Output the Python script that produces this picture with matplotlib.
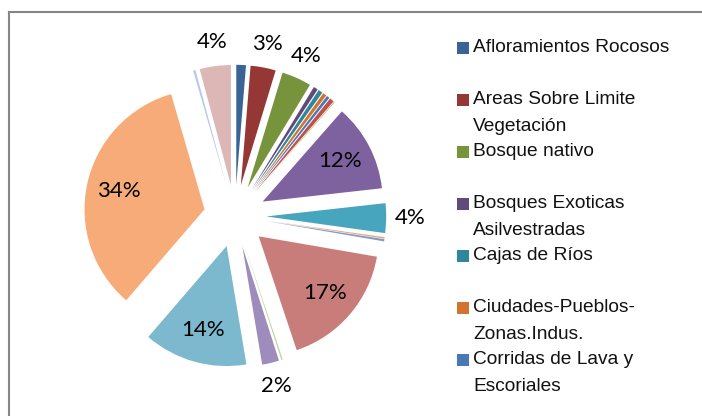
import matplotlib
matplotlib.use("Agg")
import matplotlib.pyplot as plt
import numpy as np
from matplotlib.patches import Rectangle
from matplotlib.lines import Line2D

categories = [
    "Afloramientos Rocosos", "Areas Sobre Limite\nVegetación", "Bosque nativo",
    "Bosques Exoticas\nAsilvestradas", "Cajas de Ríos", "Ciudades-Pueblos-\nZonas.Indus.",
    "Corridas de Lava y\nEscoriales", "Derrumbes", "Estepa", "Matorral",
    "Nieves y Glaciares", "Otros Sin Vegetación", "Playas y Dunas", "Praderas",
    "Plantación", "Renoval Abierto", "Renoval Denso", "Bosque Adulto",
    "Terrenos Agrícolas", "Lagos y Lagunas",
]
values = [1.3, 3.4, 4.0, 0.6, 0.6, 0.5, 0.4, 0.6, 0.1, 11.8,
          4.0, 0.2, 0.3, 17.2, 0.2, 2.3, 14.0, 34.3, 0.3, 4.2]
colors = ["#3B6496", "#953735", "#77933C", "#604A7B", "#31859C", "#D2742F",
          "#4A78B5", "#C0504D", "#9BBB59", "#7E619F", "#47A5BD", "#F2A47A",
          "#7D9BCF", "#C97D7B", "#C3D69B", "#9D8CBC", "#7CB9CF", "#F7AB78",
          "#B3C7E7", "#DDB6B6"]
legend_shown = 7

W, H = 702, 416
fig = plt.figure(figsize=(W / 100, H / 100), dpi=100)

# pie axes: center (235, 216 from top), radius 120 px
cx, cy, R = 235, H - 216, 120
lim = 1.6
ax = fig.add_axes([(cx - lim * R) / W, (cy - lim * R) / H, 2 * lim * R / W, 2 * lim * R / H])

total = sum(values)
explode = [0.26] * len(values)
wedges, texts, autotexts = ax.pie(
    values, colors=colors, explode=explode, startangle=90, counterclock=False,
    autopct=lambda p: f"{p:.0f}%" if p >= 2 else "", pctdistance=0.73,
    textprops=dict(fontsize=16, family="Lato", color="black"),
    wedgeprops=dict(linewidth=0), radius=1.0,
)
ax.set_xlim(-lim, lim)
ax.set_ylim(-lim, lim)
ax.set_aspect("equal")
ax.axis("off")
for w, t, v in zip(wedges, autotexts, values):
    pct = 100 * v / total
    if 2 <= pct < 10:
        ang = np.deg2rad((w.theta1 + w.theta2) / 2)
        c = w.center
        t.set_position((c[0] + 1.2 * np.cos(ang), c[1] + 1.2 * np.sin(ang)))
    t.set_ha("center")
    t.set_va("center")

# border
lc = "#868686"
fig.add_artist(Line2D([9 / W, 1.0], [1 - 12 / H, 1 - 12 / H], color=lc, lw=1.5,
                      transform=fig.transFigure))
fig.add_artist(Line2D([9 / W, 9 / W], [1 - 12 / H, 0.0], color=lc, lw=1.5,
                      transform=fig.transFigure))

# legend (first entries only, as in the reference)
y0 = 48
step = 52
for i in range(legend_shown):
    yc = y0 + i * step
    fig.add_artist(Rectangle(((457) / W, 1 - (yc + 6) / H), 12 / W, 12 / H,
                             transform=fig.transFigure, facecolor=colors[i],
                             edgecolor="none"))
    fig.text(473 / W, 1 - (yc - 9) / H, categories[i], ha="left", va="top",
             fontsize=13.8, family="Liberation Sans", color="#111111",
             linespacing=1.8)

fig.savefig("out.png", dpi=100)
